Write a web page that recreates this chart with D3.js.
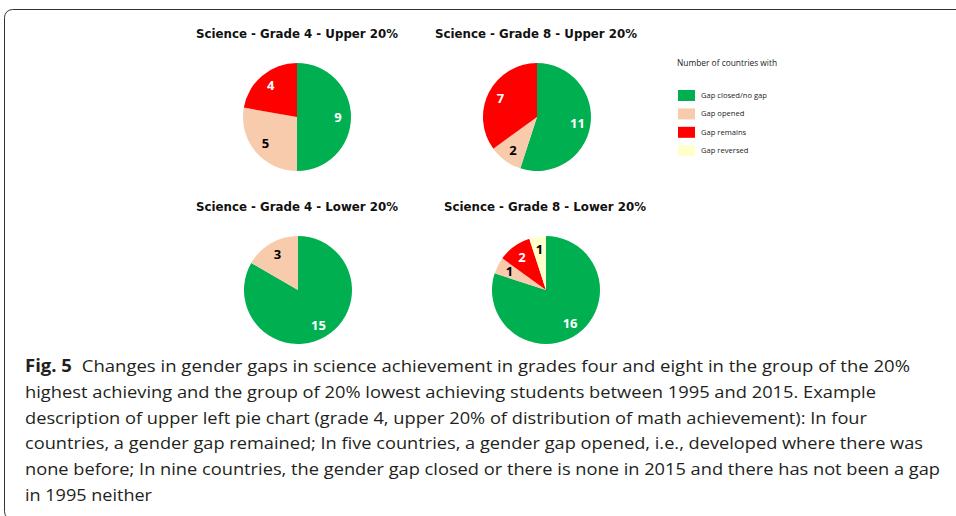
<!DOCTYPE html>
<html>
<head>
<meta charset="utf-8">
<script src="https://cdn.jsdelivr.net/npm/d3@7"></script>
<style>
  body { margin: 0; background: #fff; }
  svg { display: block; }
</style>
</head>
<body>
<div id="chart"></div>
<script>
// categories and colours (legend order = slice order, clockwise from 12 o'clock)
var categories = ["Gap closed/no gap", "Gap opened", "Gap remains", "Gap reversed"];
var colors = ["#00B050", "#F8CBAD", "#FF0000", "#FFFFCC"];
var labelColors = ["#fff", "#000", "#fff", "#000"];

// number of countries per panel
var titles = ["Science - Grade 4 - Upper 20%", "Science - Grade 8 - Upper 20%",
              "Science - Grade 4 - Lower 20%", "Science - Grade 8 - Lower 20%"];
var grade4Upper = [9, 5, 4, 0];
var grade8Upper = [11, 2, 7, 0];
var grade4Lower = [15, 3, 0, 0];
var grade8Lower = [16, 1, 2, 1];
var panelValues = [grade4Upper, grade8Upper, grade4Lower, grade8Lower];

var caption = [
  "Changes in gender gaps in science achievement in grades four and eight in the group of the 20%",
  "highest achieving and the group of 20% lowest achieving students between 1995 and 2015. Example",
  "description of upper left pie chart (grade 4, upper 20% of distribution of math achievement): In four",
  "countries, a gender gap remained; In five countries, a gender gap opened, i.e., developed where there was",
  "none before; In nine countries, the gender gap closed or there is none in 2015 and there has not been a gap",
  "in 1995 neither"
];

var width = 956, height = 516;

var svg = d3.select("#chart").append("svg")
  .attr("width", width)
  .attr("height", height);

// frame (rounded, runs off the right and bottom edges)
svg.append("rect")
  .attr("x", 4.5).attr("y", 9.5)
  .attr("width", 1000).attr("height", 510)
  .attr("rx", 8)
  .style("fill", "none")
  .style("stroke", "#333")
  .style("stroke-width", 1);

// panel layout
var panels = [
  {cx: 297, cy: 117, tx: 297, ty: 38},
  {cx: 537, cy: 117, tx: 536, ty: 38},
  {cx: 298, cy: 290, tx: 297, ty: 211},
  {cx: 546, cy: 290, tx: 545, ty: 211}
];
var radius = 54;

var pie = d3.pie().sort(null).value(function(d) { return d; });
var arc = d3.arc().innerRadius(0).outerRadius(radius);
var labelArc = d3.arc().innerRadius(41).outerRadius(41);

panels.forEach(function(p, i) {
  svg.append("text")
    .attr("x", p.tx).attr("y", p.ty)
    .attr("text-anchor", "middle")
    .attr("textLength", 202)
    .attr("lengthAdjust", "spacingAndGlyphs")
    .style("font-family", "'Liberation Sans Narrow', 'DejaVu Sans Condensed', 'Open Sans', sans-serif")
    .style("font-weight", "bold")
    .style("font-size", "13px")
    .style("fill", "#111")
    .text(titles[i]);

  var g = svg.append("g")
    .attr("transform", "translate(" + p.cx + "," + p.cy + ")");

  var arcs = pie(panelValues[i]).filter(function(d) { return d.value > 0; });

  g.selectAll("path")
    .data(arcs)
    .enter()
    .append("path")
      .attr("d", arc)
      .style("fill", function(d) { return colors[d.index]; });

  g.selectAll("text")
    .data(arcs)
    .enter()
    .append("text")
      .attr("transform", function(d) { return "translate(" + labelArc.centroid(d) + ")"; })
      .attr("text-anchor", "middle")
      .attr("dy", "0.36em")
      .style("font-family", "'Open Sans', sans-serif")
      .style("font-weight", "bold")
      .style("font-size", "13px")
      .style("fill", function(d) { return labelColors[d.index]; })
      .text(function(d) { return d.value; });
});

// legend
var legend = svg.append("g").attr("transform", "translate(677,0)");
legend.append("text")
  .attr("x", 0).attr("y", 66)
  .style("font-family", "'Open Sans', sans-serif")
  .style("font-size", "8.4px")
  .style("fill", "#222")
  .text("Number of countries with");

var item = legend.selectAll("g.item")
  .data(categories)
  .enter()
  .append("g")
    .attr("class", "item")
    .attr("transform", function(d, i) { return "translate(0," + (90 + i * 18.4) + ")"; });

item.append("rect")
  .attr("x", 1).attr("y", 0)
  .attr("width", 17).attr("height", 11)
  .style("fill", function(d, i) { return colors[i]; });

item.append("text")
  .attr("x", 24).attr("y", 8)
  .style("font-family", "'Open Sans', sans-serif")
  .style("font-size", "7.6px")
  .style("fill", "#222")
  .text(function(d) { return d; });

// caption
var capLen = [885, 851, 842, 898, 915, 127];
caption.forEach(function(line, i) {
  var t = svg.append("text")
    .attr("x", 25)
    .attr("y", 372 + i * 25.8)
    .attr("textLength", capLen[i])
    .attr("lengthAdjust", "spacingAndGlyphs")
    .style("font-family", "'Open Sans', 'Noto Sans', sans-serif")
    .style("font-size", "17px")
    .style("fill", "#231f20");
  if (i === 0) {
    t.append("tspan").style("font-weight", "bold").text("Fig. 5");
    t.append("tspan").attr("dx", 9).text(line);
  } else {
    t.text(line);
  }
});
</script>
</body>
</html>
